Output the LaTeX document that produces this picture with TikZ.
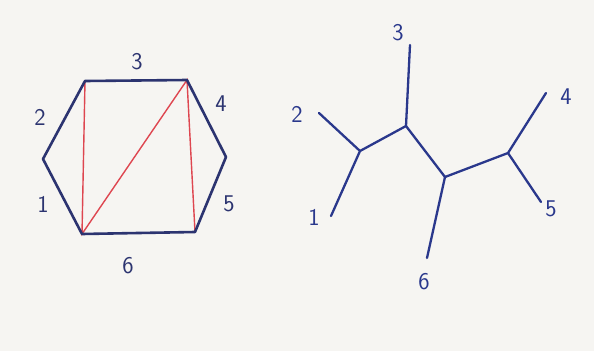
\documentclass[tikz,border=0pt]{standalone}
\definecolor{ink}{RGB}{44,52,112}
\definecolor{penblue}{RGB}{42,56,140}
\definecolor{diag}{RGB}{222,70,80}
\definecolor{paper}{RGB}{246,245,242}
\tikzset{
  edgelabel/.style={text=ink,font=\sffamily\fontsize{24}{24}\selectfont,inner sep=0pt},
  leaflabel/.style={text=penblue,font=\sffamily\fontsize{24}{24}\selectfont,inner sep=0pt},
  side/.style={ink,line width=2.6pt,line join=round,line cap=round},
  chord/.style={diag,line width=1.4pt},
  branch/.style={penblue,line width=2.3pt,line cap=round,line join=round}
}
\begin{document}
\begin{tikzpicture}[x=1pt,y=-1pt]
  \fill[paper] (0,0) rectangle (594,351);
  \useasboundingbox (0,0) rectangle (594,351);
  % polygon
  \coordinate (v1) at (43,159);
  \coordinate (v2) at (85,81);
  \coordinate (v3) at (187,80);
  \coordinate (v4) at (226,157);
  \coordinate (v5) at (195,232);
  \coordinate (v6) at (82,234);
  \draw[chord] (v2)--(v6)--(v3)--(v5);
  \draw[side] (v1)--(v2)--(v3)--(v4)--(v5)--(v6)--cycle;
  \node[edgelabel] (e3) at (137,62) {3};
  \node[edgelabel] (e2) at (40,117) {2};
  \node[edgelabel] (e4) at (221,104) {4};
  \node[edgelabel] (e1) at (43,204) {1};
  \node[edgelabel] (e5) at (229,204) {5};
  \node[edgelabel] (e6) at (128,266) {6};
  % tree
  \coordinate (a) at (360,151);
  \coordinate (b) at (406,126);
  \coordinate (c) at (445,177);
  \coordinate (d) at (508,153);
  \coordinate (t1) at (331,216);
  \coordinate (t2) at (319,113);
  \coordinate (t3) at (410,45);
  \coordinate (t4) at (546,93);
  \coordinate (t5) at (541,202);
  \coordinate (t6) at (427,258);
  \draw[branch] (t1)--(a)--(t2);
  \draw[branch] (a)--(b)--(c)--(d);
  \draw[branch] (b)--(t3);
  \draw[branch] (c)--(t6);
  \draw[branch] (t4)--(d)--(t5);
  \node[leaflabel] (l1) at (314,217) {1};
  \node[leaflabel] (l2) at (297,114) {2};
  \node[leaflabel] (l3) at (398,33) {3};
  \node[leaflabel] (l4) at (566,97) {4};
  \node[leaflabel] (l5) at (551,209) {5};
  \node[leaflabel] (l6) at (424,282) {6};
\end{tikzpicture}
\end{document}
